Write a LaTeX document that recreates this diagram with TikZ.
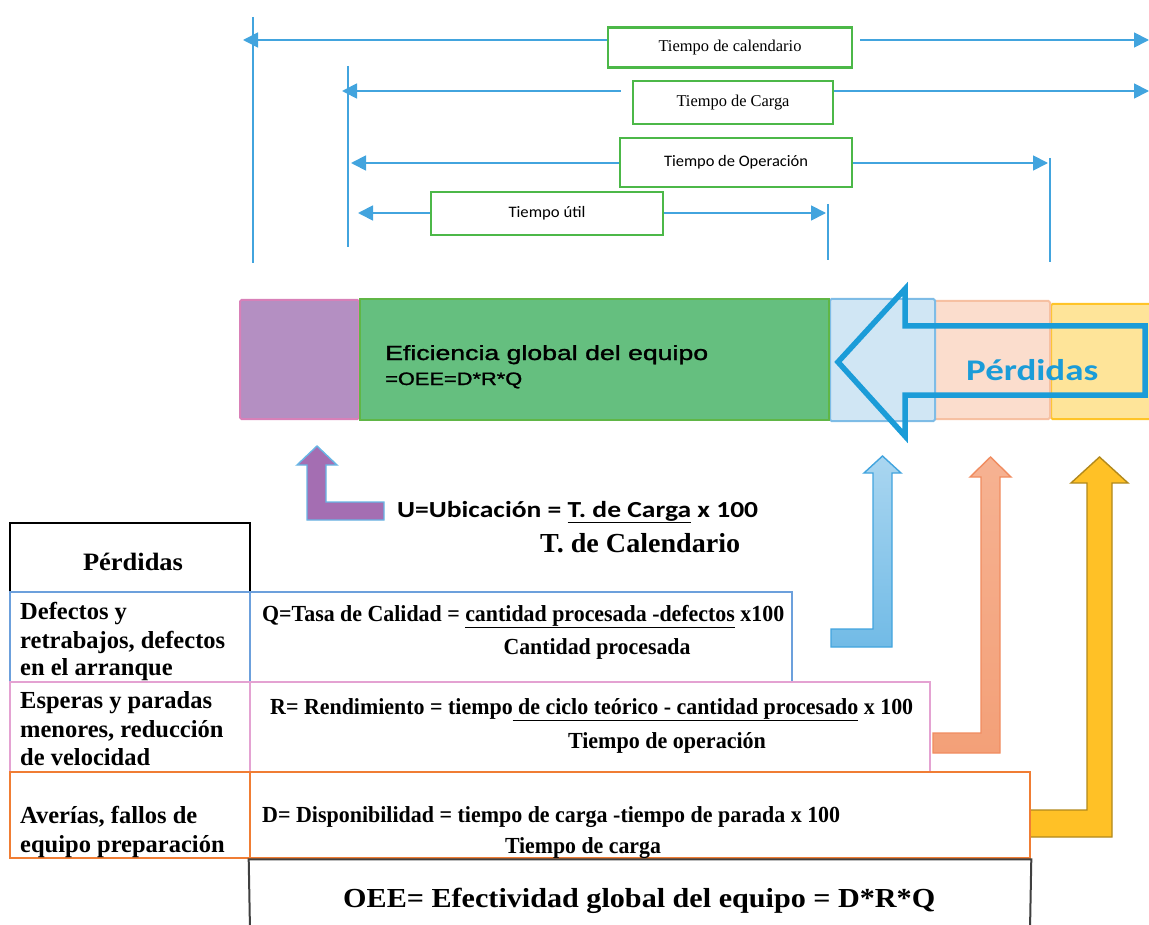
\documentclass[tikz,border=0pt]{standalone}
\usepackage{fontspec}
\usepackage{graphicx}
\setmainfont{Liberation Serif}
\newfontfamily\arialfont{Liberation Sans}[FakeBold=1.2]
\newfontfamily\calfont{Carlito}
\usetikzlibrary{arrows.meta,shadings}

% palette
\definecolor{dimblue}{RGB}{66,164,222}
\definecolor{boxgreen}{RGB}{76,184,72}
\definecolor{purfill}{RGB}{180,143,194}
\definecolor{purline}{RGB}{216,128,184}
\definecolor{oeefill}{RGB}{101,191,127}
\definecolor{oeeline}{RGB}{96,182,70}
\definecolor{lbfill}{RGB}{208,230,244}
\definecolor{lbline}{RGB}{126,188,230}
\definecolor{pcfill}{RGB}{251,221,205}
\definecolor{pcline}{RGB}{246,192,162}
\definecolor{ylfill}{RGB}{254,228,153}
\definecolor{ylline}{RGB}{255,196,40}
\definecolor{lossblue}{RGB}{27,156,216}
\definecolor{arrpur}{RGB}{164,110,178}
\definecolor{salmtop}{RGB}{246,178,146}
\definecolor{salmbot}{RGB}{243,160,120}
\definecolor{salmline}{RGB}{240,140,96}
\definecolor{qrow}{RGB}{108,160,220}
\definecolor{rrow}{RGB}{228,162,210}
\definecolor{drow}{RGB}{240,125,52}

% stretch a text horizontally to a given width
\newcommand\fitw[2]{\resizebox{#1}{\height}{#2}}

\begin{document}
\begin{tikzpicture}[x=1pt,y=-1pt,
  dimline/.style={draw=dimblue, line width=1.8pt},
  dimarrow/.style={dimline, -{Triangle[length=15pt,width=15pt]}},
  timebox/.style={draw=boxgreen, line width=2.6pt, fill=white, inner sep=0pt},
  barcell/.style={line width=2pt, rounded corners=1.5pt},
  txt/.style={inner sep=0pt, anchor=base west},
  ctxt/.style={inner sep=0pt, anchor=base},
  lossarrow/.style={line width=1.4pt, line join=miter},
  tcell/.style={line width=2pt}]
\useasboundingbox (0,0) rectangle (1149,925);

% ---------- time scale ----------
\coordinate (vA1) at (253,17);   \coordinate (vA2) at (253,263);
\coordinate (vB1) at (348,66);   \coordinate (vB2) at (348,247);
\coordinate (vC1) at (828,204);  \coordinate (vC2) at (828,260);
\coordinate (vD1) at (1050,158); \coordinate (vD2) at (1050,262);
\draw[dimline] (vA1) -- (vA2);
\draw[dimline] (vB1) -- (vB2);
\draw[dimline] (vC1) -- (vC2);
\draw[dimline] (vD1) -- (vD2);

\node[timebox, minimum width=244pt, minimum height=40pt] (cal) at (730,47.5)
  {\fitw{143pt}{\fontsize{16.5}{19}\selectfont Tiempo de calendario}};
\node[timebox, minimum width=200pt, minimum height=43pt] (carga) at (733,102.5)
  {\fitw{113pt}{\fontsize{16.5}{19}\selectfont Tiempo de Carga}};
\node[timebox, minimum width=232pt, minimum height=49pt] (oper) at (736,162.5)
  {\fitw{144pt}{\calfont\fontsize{16}{19}\selectfont Tiempo de Operación}};
\node[timebox, minimum width=232pt, minimum height=43pt] (util) at (547,213.5)
  {\fitw{77pt}{\calfont\fontsize{16}{19}\selectfont Tiempo útil}};

\coordinate (calL) at (243,40);   \coordinate (calR) at (1149,40);
\coordinate (cargaL) at (342,91); \coordinate (cargaR) at (1149,91);
\coordinate (operL) at (351,163); \coordinate (operR) at (1048,163);
\coordinate (utilL) at (358,213); \coordinate (utilR) at (826,213);

\draw[dimarrow] (cal.west |- calL) -- (calL);
\draw[dimarrow] ([xshift=7pt]cal.east |- calR) -- (calR);
\draw[dimarrow] ([xshift=-11pt]carga.west |- cargaL) -- (cargaL);
\draw[dimarrow] (carga.east |- cargaR) -- (cargaR);
\draw[dimarrow] (oper.west |- operL) -- (operL);
\draw[dimarrow] (oper.east |- operR) -- (operR);
\draw[dimarrow] (util.west |- utilL) -- (utilL);
\draw[dimarrow] (util.east |- utilR) -- (utilR);

% ---------- equipment time bar ----------
\draw[barcell, draw=ylline, fill=ylfill] (1051,304) rectangle (1152,419);
\draw[barcell, draw=pcline, fill=pcfill] (934,301) rectangle (1050,419);
\draw[barcell, draw=lbline, fill=lbfill] (830,299) rectangle (935,421);
\draw[barcell, draw=purline, fill=purfill] (240,300) rectangle (359,419);
\draw[line width=2.6pt, draw=oeeline, fill=oeefill] (360,299) rectangle (829,420);

\node[txt] (efi) at (385,360)
  {\fitw{323pt}{\arialfont\fontsize{20.5}{24}\selectfont Eficiencia global del equipo}};
\node[txt] (efiq) at (385,385)
  {\fitw{137pt}{\arialfont\fontsize{18}{22}\selectfont =OEE=D*R*Q}};

% hollow arrow of the losses
\draw[draw=lossblue, line width=5.5pt, line join=miter]
  (838,362) -- (905,289) -- (905,326) -- (1145,326) -- (1145,395)
  -- (905,395) -- (905,436) -- cycle;
\node[txt, text=lossblue] (loss) at (966,380)
  {\fitw{132pt}{\calfont\bfseries\fontsize{30}{34}\selectfont Pérdidas}};

% ---------- rate formulas and bent arrows ----------
\draw[lossarrow, draw=dimblue!80, fill=arrpur]
  (307,520) -- (307,465) -- (297,465) -- (317,446) -- (337,465) -- (326,465)
  -- (326,502) -- (384,502) -- (384,520) -- cycle;
\node[txt] (ubic) at (397,517)
  {\fitw{361pt}{\calfont\bfseries\fontsize{23}{27}\selectfont U=Ubicación = \underline{T. de Carga} x 100}};
\node[txt] (ubicd) at (540,552)
  {\fitw{200pt}{\bfseries\fontsize{27.5}{32}\selectfont T. de Calendario}};

\draw[lossarrow, draw=dimblue, top color=dimblue!45!white, bottom color=dimblue!75!white]
  (831,647) -- (892,647) -- (892,473) -- (901,473) -- (882.5,456) -- (864,473)
  -- (873,473) -- (873,629) -- (831,629) -- cycle;
\draw[lossarrow, draw=salmline, top color=salmtop, bottom color=salmbot]
  (933,753) -- (1000,753) -- (1000,477) -- (1011,477) -- (990.5,457) -- (970,477)
  -- (981,477) -- (981,733) -- (933,733) -- cycle;
\draw[lossarrow, draw=ylline!70!black, fill=ylline!95!orange]
  (1030,837) -- (1112,837) -- (1112,483) -- (1128,483) -- (1099.5,457) -- (1071,483)
  -- (1087,483) -- (1087,810) -- (1030,810) -- cycle;

% ---------- losses table ----------
\node[tcell, draw=black, line width=1.5pt, minimum width=240pt, minimum height=69pt, inner sep=0pt]
  (hdr) at (130,557.5) {};
\node[ctxt] (hdrt) at (133,570)
  {\fitw{100pt}{\bfseries\fontsize{25}{29}\selectfont Pérdidas}};

\node[tcell, draw=qrow, minimum width=240pt, minimum height=90pt, inner sep=0pt] (qL) at (130,637) {};
\node[tcell, draw=qrow, minimum width=542pt, minimum height=90pt, inner sep=0pt] (qR) at (521,637) {};
\node[tcell, draw=rrow, minimum width=240pt, minimum height=90pt, inner sep=0pt] (rL) at (130,727) {};
\node[tcell, draw=rrow, minimum width=680pt, minimum height=90pt, inner sep=0pt] (rR) at (590,727) {};
\node[tcell, draw=drow, line width=2.6pt, minimum width=240pt, minimum height=86pt, inner sep=0pt] (dL) at (130,815) {};
\node[tcell, draw=drow, line width=2.6pt, minimum width=780pt, minimum height=86pt, inner sep=0pt] (dR) at (640,815) {};
\coordinate (oeeBL) at (250,930); \coordinate (oeeBR) at (1030,930);
\draw[tcell, draw=black!75] (oeeBL) -- (dR.south west) -- (dR.south east) -- (oeeBR);

\tikzset{lossfont/.style={font=\bfseries\fontsize{24.5}{28.5}\selectfont}}
\node[txt, lossfont] (q1) at (20,619) {Defectos y};
\node[txt, lossfont] (q2) at (20,648) {retrabajos, defectos};
\node[txt, lossfont] (q3) at (20,675) {en el arranque};
\node[txt, lossfont] (r1) at (20,708) {Esperas y paradas};
\node[txt, lossfont] (r2) at (20,737) {menores, reducción};
\node[txt, lossfont] (r3) at (20,765) {de velocidad};
\node[txt, lossfont] (d1) at (20,823) {Averías, fallos de};
\node[txt, lossfont] (d2) at (20,852) {equipo preparación};

\node[txt] (qf) at (262,621)
  {\fitw{522pt}{\bfseries\fontsize{23}{27}\selectfont Q=Tasa de Calidad = \underline{cantidad procesada -defectos} x100}};
\node[ctxt] (qd) at (597,654)
  {\fitw{187pt}{\bfseries\fontsize{23}{27}\selectfont Cantidad procesada}};
\node[txt] (rf) at (270,714)
  {\fitw{643pt}{\bfseries\fontsize{23}{27}\selectfont R= Rendimiento = tiempo\underline{ de ciclo teórico - cantidad procesado} x 100}};
\node[ctxt] (rd) at (667,748)
  {\fitw{198pt}{\bfseries\fontsize{23}{27}\selectfont Tiempo de operación}};
\node[txt] (df) at (262,822)
  {\fitw{578pt}{\bfseries\fontsize{23}{27}\selectfont D= Disponibilidad = tiempo de carga -tiempo de parada x 100}};
\node[ctxt] (dd) at (583,853)
  {\fitw{156pt}{\bfseries\fontsize{23}{27}\selectfont Tiempo de carga}};
\node[txt] (oee) at (343,907)
  {\fitw{592pt}{\bfseries\fontsize{27.5}{32}\selectfont OEE= Efectividad global del equipo = D*R*Q}};
\end{tikzpicture}
\end{document}
